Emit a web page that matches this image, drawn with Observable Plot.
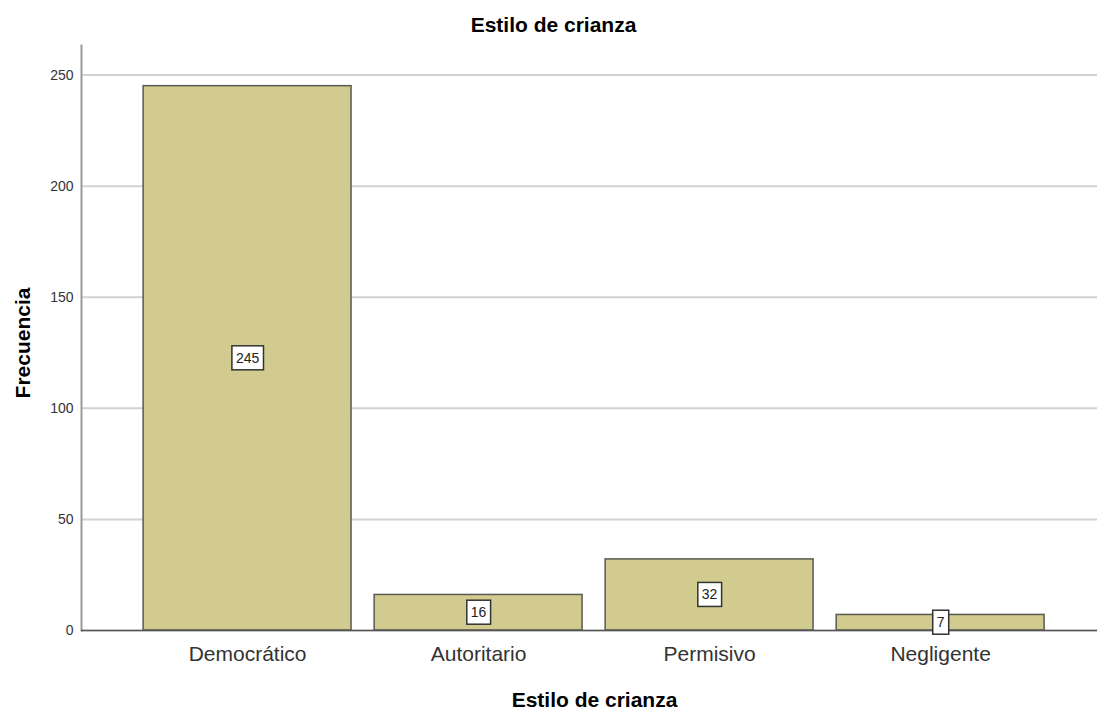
<!DOCTYPE html>
<html>
<head>
<meta charset="utf-8">
<script src="https://cdn.jsdelivr.net/npm/d3@7"></script>
<script src="https://cdn.jsdelivr.net/npm/@observablehq/plot@0.6"></script>
<style>
  html, body { margin: 0; padding: 0; background: #fff; }
  #chart svg { display: block; }
</style>
</head>
<body>
<div id="chart"></div>
<script>
const categories = ["Democrático", "Autoritario", "Permisivo", "Negligente"];
const frequencies = [245, 16, 32, 7];
const yTicks = [0, 50, 100, 150, 200, 250];
const chartTitle = "Estilo de crianza";
const xTitle = "Estilo de crianza";
const yTitle = "Frecuencia";

const data = categories.map((c, i) => ({category: c, value: frequencies[i]}));
const FONT = "'Liberation Sans', Arial, Helvetica, sans-serif";

const chart = Plot.plot({
  width: 1097,
  height: 711,
  marginLeft: 81,
  marginRight: 0,
  marginTop: 45,
  marginBottom: 81,
  style: {fontFamily: FONT, background: "#fff", color: "#333"},
  x: {type: "band", domain: categories, paddingInner: 0.1, paddingOuter: 0.249, align: 0.54, round: false, label: null},
  y: {domain: [0, 263.3], label: null},
  marks: [
    Plot.gridY(yTicks, {stroke: "#d2d2d2", strokeOpacity: 1, strokeWidth: 2}),
    Plot.frame({anchor: "left", stroke: "#9a9a9a", strokeWidth: 2}),
    Plot.barY(data, {x: "category", y: "value", fill: "#d1cb8f", stroke: "#5a5a50", strokeWidth: 1.5}),
    Plot.ruleY([0], {stroke: "#555", strokeWidth: 1.5}),
    Plot.axisY({ticks: yTicks, tickSize: 0, tickPadding: 8, fontSize: 14, label: null, fill: "#333"}),
    Plot.axisX({tickSize: 0, tickPadding: 16, fontSize: 21, label: null, fill: "#333"}),
    Plot.text(data, {x: "category", y: d => d.value / 2, text: d => String(d.value), fontSize: 14, fill: "#222"}),
    Plot.text([chartTitle], {frameAnchor: "top", text: d => d, dx: -36, dy: -28, fontSize: 21, fontWeight: "bold", fill: "#000"}),
    Plot.text([xTitle], {frameAnchor: "bottom", text: d => d, dx: 5, dy: 76, fontSize: 21, fontWeight: "bold", fill: "#000"}),
    Plot.text([yTitle], {frameAnchor: "left", textAnchor: "middle", text: d => d, rotate: -90, dx: -58, dy: 5, fontSize: 21, fontWeight: "bold", fill: "#000"})
  ]
});

document.getElementById("chart").appendChild(chart);

// white boxes behind the value labels (first plain text mark = bar labels)
const labelGroup = chart.querySelector('g[aria-label="text"]');
if (labelGroup) {
  labelGroup.querySelectorAll("text").forEach(t => {
    const b = t.getBBox();
    const r = document.createElementNS("http://www.w3.org/2000/svg", "rect");
    const padX = 4, padY = 4;
    r.setAttribute("x", b.x - padX);
    r.setAttribute("y", b.y - padY);
    r.setAttribute("width", b.width + 2 * padX);
    r.setAttribute("height", b.height + 2 * padY);
    r.setAttribute("fill", "#fff");
    r.setAttribute("stroke", "#333");
    r.setAttribute("stroke-width", "1.5");
    const tr = t.getAttribute("transform");
    if (tr) r.setAttribute("transform", tr);
    t.parentNode.insertBefore(r, t);
  });
}
</script>
</body>
</html>
